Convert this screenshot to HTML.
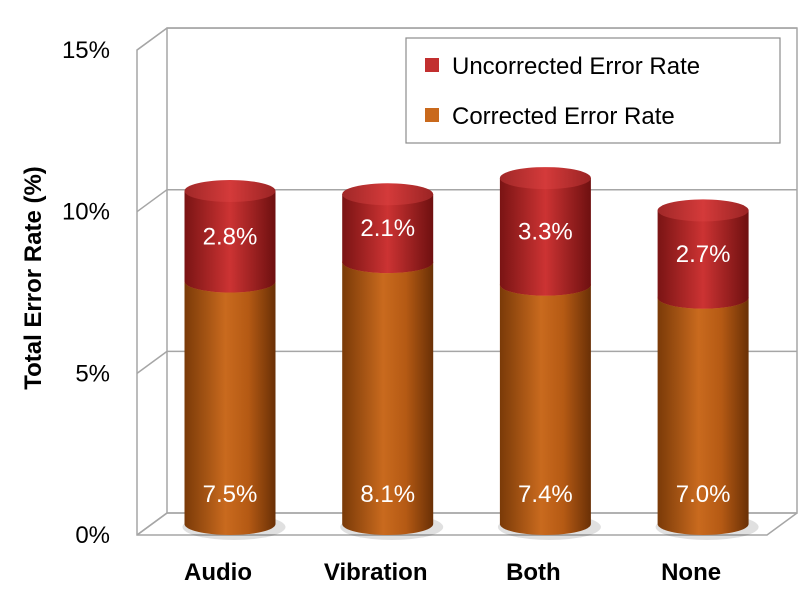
<!DOCTYPE html>
<html><head><meta charset="utf-8"><style>
body{margin:0;background:#fff}
text{font-family:"Liberation Sans",Arial,sans-serif}
</style></head><body>
<svg id="chart" width="810" height="600" viewBox="0 0 810 600">
<defs>
<linearGradient id="gO" x1="0" x2="1" y1="0" y2="0">
<stop offset="0" stop-color="#7a3a08"/><stop offset="0.45" stop-color="#c96a1e"/><stop offset="0.7" stop-color="#b55a14"/><stop offset="1" stop-color="#6a3006"/></linearGradient>
<linearGradient id="gOt" x1="0" x2="1" y1="0" y2="0">
<stop offset="0" stop-color="#e08a3a"/><stop offset="0.5" stop-color="#ffa650"/><stop offset="1" stop-color="#d07a2a"/></linearGradient>
<linearGradient id="gR" x1="0" x2="1" y1="0" y2="0">
<stop offset="0" stop-color="#7a1414"/><stop offset="0.5" stop-color="#cc3333"/><stop offset="1" stop-color="#6e1010"/></linearGradient>
<linearGradient id="gRt" x1="0" x2="1" y1="0" y2="0">
<stop offset="0" stop-color="#a02828"/><stop offset="0.5" stop-color="#d43a3a"/><stop offset="1" stop-color="#9a2424"/></linearGradient>
<linearGradient id="gVO" x1="0" x2="0" y1="0" y2="1"><stop offset="0" stop-color="#fff" stop-opacity="0.35"/><stop offset="0.5" stop-color="#fff" stop-opacity="0"/></linearGradient>
</defs>
<g id="frame" stroke="#a6a6a6" stroke-width="1.5" fill="none"></g>
<g id="ticks"></g>
<g id="bars"></g>
<g id="cats"></g>
<text transform="translate(41,278) rotate(-90)" text-anchor="middle" font-size="24" font-weight="bold">Total Error Rate (%)</text>
<g>
<rect x="406" y="38" width="374" height="105" fill="#fff" stroke="#8c8c8c" stroke-width="1.2"/>
<g><rect x="425" y="58" width="14" height="14" fill="#c22f2f"/><text x="452" y="74" font-size="24">Uncorrected Error Rate</text></g>
<g><rect x="425" y="108" width="14" height="14" fill="#c9691c"/><text x="452" y="124" font-size="24">Corrected Error Rate</text></g>
</g>
</svg>
<script>
const categories=["Audio","Vibration","Both","None"];
const corrected=[7.5,8.1,7.4,7.0];
const uncorrected=[2.8,2.1,3.3,2.7];
const tickVals=[0,5,10,15];
const tickLabels=["0%","5%","10%","15%"];
const NS="http://www.w3.org/2000/svg";
function mk(t,a,p){const e=document.createElementNS(NS,t);for(const k in a)e.setAttribute(k,a[k]);p.appendChild(e);return e;}
const backX0=167,backX1=797,back0=513,ppu=32.33,dx=-30,dy=22;
const yBack=v=>back0-v*ppu;
const yMid=v=>back0+11-v*ppu;
const xC=i=>230+i*157.7;
const frame=document.getElementById('frame');
// back wall and side
mk('rect',{x:backX0,y:yBack(15),width:backX1-backX0,height:back0-yBack(15)},frame);
mk('path',{d:`M${backX0},${yBack(15)} L${backX0+dx},${yBack(15)+dy} L${backX0+dx},${back0+dy} L${backX1+dx},${back0+dy} L${backX1},${back0}`},frame);
mk('line',{x1:backX0,y1:back0,x2:backX0+dx,y2:back0+dy},frame);
const ticks=document.getElementById('ticks');
tickVals.forEach((v,i)=>{
 const y=yBack(v);
 const g=mk('line',{x1:backX0,y1:y,x2:backX1,y2:y},frame);
 
 
 mk('line',{x1:backX0,y1:y,x2:backX0+dx,y2:y+dy},frame);
 const t=mk('text',{x:110,y:y+dy+8,'text-anchor':'end','font-size':24},ticks);
 
 
 t.textContent=tickLabels[i];
});
const bars=document.getElementById('bars');
const rx=45.5,ry=11;
function cyl(cx,y0,y1,side,top,name){
 const g=mk('g',{},bars);
 
 
 mk('path',{d:`M${cx-rx},${y1} L${cx-rx},${y0} A${rx},${ry} 0 0 0 ${cx+rx},${y0} L${cx+rx},${y1} Z`,fill:side},g);
 mk('ellipse',{cx:cx,cy:y1,rx:rx,ry:ry,fill:top},g);
 return g;
}
categories.forEach((c,i)=>{
 const cx=xC(i);
 mk('ellipse',{cx:cx+4,cy:yMid(0)+3,rx:rx+6,ry:ry+2,fill:'#000',opacity:0.12},bars);
 const y0=yMid(0),y1=yMid(corrected[i]),y2=yMid(corrected[i]+uncorrected[i]);
 cyl(cx,y0,y1,'url(#gO)','url(#gOt)','bar-corrected-'+c.toLowerCase());
 cyl(cx,y1,y2,'url(#gR)','url(#gRt)','bar-uncorrected-'+c.toLowerCase());
 const t1=mk('text',{x:cx,y:y0-22,'text-anchor':'middle','font-size':24,fill:'#fff'},bars);
 
 
 t1.textContent=corrected[i].toFixed(1)+'%';
 const t2=mk('text',{x:cx,y:(y1+y2)/2+8,'text-anchor':'middle','font-size':24,fill:'#fff'},bars);
 
 
 t2.textContent=uncorrected[i].toFixed(1)+'%';
 const l=mk('text',{x:cx-12,y:580,'text-anchor':'middle','font-size':24,'font-weight':'bold'},document.getElementById('cats'));
 
 
 l.textContent=c;
});
</script>
</body></html>
